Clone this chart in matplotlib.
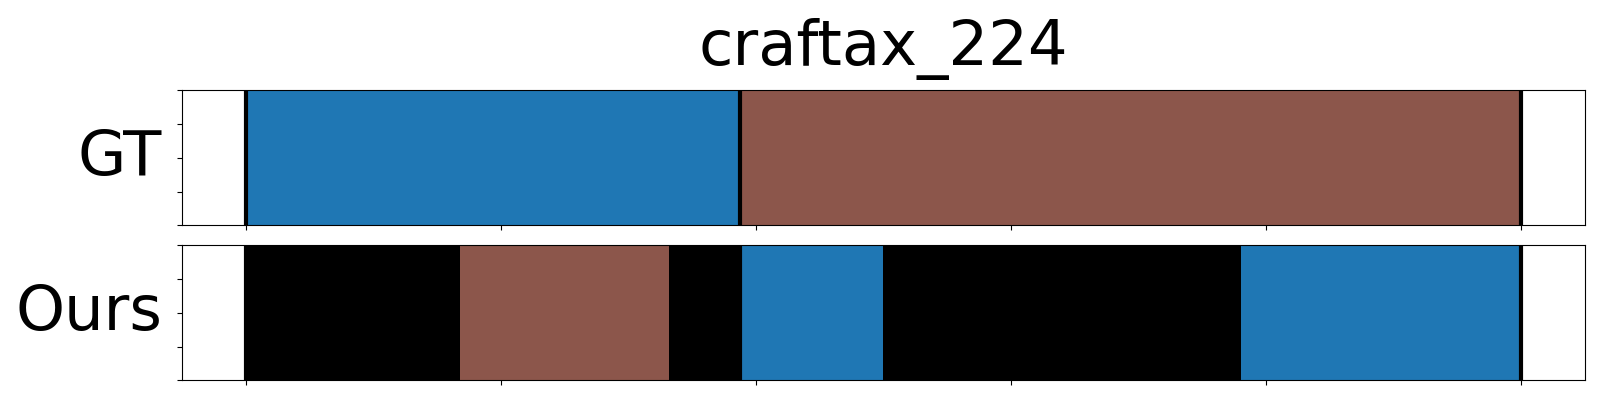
import numpy as np
import matplotlib
matplotlib.use("Agg")
import matplotlib.pyplot as plt

# segment data (frame indices)
title = "craftax_224"
n_frames = 250
gt_bounds = [0, 97, 250]
gt_colors = ["tab:blue", "tab:brown"]
ours_bounds = [0, 42, 83, 97, 125, 195, 250]
ours_colors = ["black", "tab:brown", "black", "tab:blue", "black", "tab:blue"]
row_labels = ["GT", "Ours"]


def draw_row(ax, bounds, colors, label):
    for start, end, c in zip(bounds[:-1], bounds[1:], colors):
        ax.axvspan(start, end, color=c, lw=0)
    # boundaries of the ground-truth segments
    for b in gt_bounds:
        ax.axvline(b, color="black", lw=3)
    ax.set_xlim(-0.05 * n_frames, 1.05 * n_frames)
    ax.set_ylim(0, 1)
    ax.set_xticks(np.linspace(0, n_frames, 6))
    ax.set_yticks(np.linspace(0, 1, 5))
    ax.set_xticklabels([])
    ax.set_yticklabels([])
    ax.set_ylabel(label, fontsize=45, rotation=0, ha="right", va="center", labelpad=7)


fig = plt.figure(figsize=(16, 4), dpi=100)
ax_gt = fig.add_axes([0.1136, 0.437, 0.877, 0.337])
ax_ours = fig.add_axes([0.1136, 0.049, 0.877, 0.338])

draw_row(ax_gt, gt_bounds, gt_colors, row_labels[0])
draw_row(ax_ours, ours_bounds, ours_colors, row_labels[1])
ax_gt.set_title(title, fontsize=45, pad=18)

fig.savefig("out.png", dpi=100)
